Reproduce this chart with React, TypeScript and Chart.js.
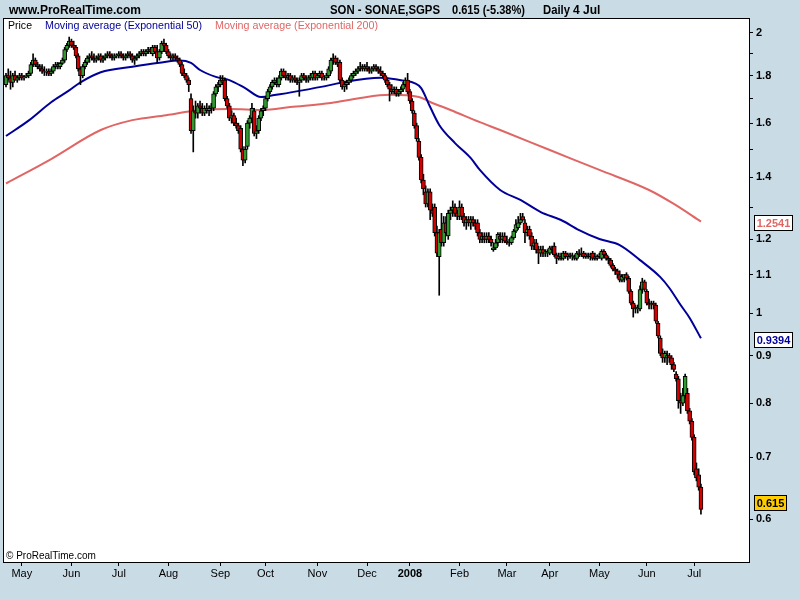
import { useEffect, useRef } from 'react';
import { Chart, registerables } from 'chart.js';

Chart.register(...registerables);

const FONT = 'Arial, "Liberation Sans", Helvetica, sans-serif';

// x axis: trading-day index of first session of each month
const monthTickDays = [7, 29, 50, 72, 95, 115, 138, 160, 179, 201, 222, 241, 263, 284, 305];
const monthTickLabels = ['May', 'Jun', 'Jul', 'Aug', 'Sep', 'Oct', 'Nov', 'Dec', '2008', 'Feb', 'Mar', 'Apr', 'May', 'Jun', 'Jul'];

// y axis (logarithmic)
const yTickValues = [0.6, 0.7, 0.8, 0.9, 1, 1.1, 1.2, 1.3, 1.4, 1.5, 1.6, 1.7, 1.8, 1.9, 2];
const yTickLabels = ['0.6', '0.7', '0.8', '0.9', '1', '1.1', '1.2', '', '1.4', '', '1.6', '', '1.8', '', '2'];

// daily OHLC, one entry per trading day (index 0 = 20 Apr 2007 ... 308 = 4 Jul 2008)
const opens = [
  1.76, 1.80, 1.79, 1.77, 1.80, 1.78, 1.79, 1.80, 1.79, 1.795,
  1.80, 1.81, 1.85, 1.87, 1.85, 1.84, 1.83, 1.82, 1.815, 1.82,
  1.81, 1.82, 1.84, 1.85, 1.84, 1.855, 1.87, 1.92, 1.94, 1.96,
  1.94, 1.93, 1.89, 1.83, 1.80, 1.84, 1.86, 1.88, 1.89, 1.88,
  1.87, 1.88, 1.89, 1.87, 1.88, 1.89, 1.90, 1.89, 1.88, 1.89,
  1.89, 1.90, 1.89, 1.88, 1.89, 1.90, 1.89, 1.87, 1.88, 1.89,
  1.90, 1.91, 1.90, 1.91, 1.92, 1.90, 1.93, 1.91, 1.88, 1.91,
  1.95, 1.94, 1.91, 1.89, 1.88, 1.89, 1.88, 1.87, 1.85, 1.81,
  1.80, 1.78, 1.70, 1.57, 1.65, 1.64, 1.67, 1.66, 1.64, 1.66,
  1.65, 1.66, 1.66, 1.72, 1.75, 1.76, 1.78, 1.78, 1.70, 1.67,
  1.62, 1.63, 1.60, 1.59, 1.58, 1.50, 1.46, 1.51, 1.60, 1.62,
  1.65, 1.56, 1.57, 1.62, 1.65, 1.66, 1.70, 1.73, 1.75, 1.77,
  1.77, 1.76, 1.79, 1.82, 1.80, 1.79, 1.80, 1.78, 1.79, 1.78,
  1.77, 1.78, 1.80, 1.79, 1.78, 1.79, 1.79, 1.81, 1.79, 1.80,
  1.81, 1.79, 1.79, 1.80, 1.82, 1.87, 1.88, 1.86, 1.86, 1.78,
  1.75, 1.76, 1.77, 1.78, 1.80, 1.81, 1.82, 1.83, 1.84, 1.83,
  1.84, 1.83, 1.82, 1.83, 1.84, 1.83, 1.82, 1.81, 1.80, 1.78,
  1.76, 1.74, 1.73, 1.74, 1.72, 1.73, 1.74, 1.76, 1.78, 1.73,
  1.69, 1.64, 1.59, 1.53, 1.47, 1.39, 1.35, 1.31, 1.35, 1.29,
  1.30, 1.22, 1.15, 1.23, 1.19, 1.25, 1.21, 1.28, 1.29, 1.30,
  1.28, 1.27, 1.30, 1.27, 1.25, 1.26, 1.25, 1.26, 1.25, 1.25,
  1.22, 1.20, 1.21, 1.20, 1.21, 1.20, 1.17, 1.175, 1.19, 1.21,
  1.20, 1.21, 1.195, 1.19, 1.19, 1.205, 1.225, 1.235, 1.25, 1.27,
  1.25, 1.22, 1.23, 1.21, 1.18, 1.19, 1.17, 1.16, 1.17, 1.16,
  1.16, 1.16, 1.175, 1.18, 1.155, 1.145, 1.15, 1.145, 1.16, 1.15,
  1.155, 1.15, 1.15, 1.145, 1.16, 1.155, 1.16, 1.15, 1.155, 1.15,
  1.16, 1.15, 1.145, 1.15, 1.145, 1.165, 1.155, 1.145, 1.14, 1.125,
  1.115, 1.11, 1.10, 1.085, 1.09, 1.10, 1.09, 1.055, 1.025, 1.01,
  1.01, 1.01, 1.06, 1.08, 1.055, 1.025, 1.02, 1.025, 1.02, 0.975,
  0.94, 0.905, 0.895, 0.895, 0.90, 0.895, 0.88, 0.86, 0.85, 0.805,
  0.80, 0.815, 0.82, 0.785, 0.765, 0.735, 0.68, 0.67, 0.65,
];
const highs = [
  1.81, 1.83, 1.82, 1.81, 1.82, 1.80, 1.81, 1.81, 1.80, 1.81,
  1.82, 1.86, 1.90, 1.88, 1.86, 1.85, 1.85, 1.84, 1.83, 1.83,
  1.83, 1.85, 1.86, 1.86, 1.86, 1.88, 1.93, 1.95, 1.98, 1.97,
  1.96, 1.94, 1.90, 1.84, 1.85, 1.87, 1.89, 1.90, 1.91, 1.90,
  1.89, 1.90, 1.90, 1.89, 1.90, 1.91, 1.91, 1.90, 1.90, 1.90,
  1.91, 1.91, 1.90, 1.90, 1.91, 1.91, 1.90, 1.89, 1.90, 1.91,
  1.92, 1.92, 1.92, 1.93, 1.93, 1.94, 1.94, 1.94, 1.92, 1.96,
  1.97, 1.95, 1.92, 1.90, 1.90, 1.90, 1.89, 1.88, 1.86, 1.83,
  1.81, 1.79, 1.72, 1.67, 1.69, 1.68, 1.69, 1.68, 1.67, 1.68,
  1.67, 1.68, 1.73, 1.76, 1.77, 1.80, 1.80, 1.79, 1.71, 1.68,
  1.65, 1.64, 1.62, 1.60, 1.59, 1.51, 1.51, 1.61, 1.63, 1.68,
  1.66, 1.59, 1.63, 1.66, 1.67, 1.71, 1.74, 1.76, 1.78, 1.79,
  1.79, 1.80, 1.83, 1.83, 1.82, 1.81, 1.81, 1.80, 1.80, 1.79,
  1.79, 1.81, 1.81, 1.80, 1.80, 1.81, 1.82, 1.82, 1.81, 1.82,
  1.82, 1.80, 1.81, 1.84, 1.88, 1.90, 1.89, 1.88, 1.87, 1.79,
  1.77, 1.78, 1.79, 1.81, 1.82, 1.83, 1.84, 1.86, 1.85, 1.85,
  1.86, 1.84, 1.84, 1.85, 1.85, 1.84, 1.84, 1.82, 1.81, 1.79,
  1.77, 1.76, 1.75, 1.75, 1.74, 1.75, 1.77, 1.79, 1.81, 1.74,
  1.70, 1.65, 1.60, 1.54, 1.48, 1.41, 1.37, 1.36, 1.36, 1.31,
  1.31, 1.24, 1.23, 1.28, 1.27, 1.27, 1.29, 1.30, 1.32, 1.31,
  1.29, 1.32, 1.31, 1.28, 1.27, 1.27, 1.27, 1.27, 1.26, 1.26,
  1.23, 1.22, 1.22, 1.22, 1.22, 1.21, 1.19, 1.20, 1.22, 1.22,
  1.22, 1.22, 1.21, 1.20, 1.21, 1.23, 1.26, 1.27, 1.28, 1.28,
  1.26, 1.24, 1.24, 1.22, 1.20, 1.20, 1.18, 1.18, 1.18, 1.17,
  1.17, 1.18, 1.18, 1.19, 1.16, 1.16, 1.16, 1.165, 1.165, 1.16,
  1.16, 1.16, 1.155, 1.165, 1.17, 1.175, 1.165, 1.16, 1.16, 1.16,
  1.165, 1.16, 1.155, 1.16, 1.17, 1.17, 1.16, 1.15, 1.145, 1.13,
  1.12, 1.115, 1.11, 1.10, 1.10, 1.105, 1.095, 1.06, 1.03, 1.02,
  1.02, 1.07, 1.09, 1.085, 1.06, 1.035, 1.03, 1.03, 1.025, 0.98,
  0.945, 0.915, 0.91, 0.91, 0.905, 0.90, 0.885, 0.865, 0.855, 0.82,
  0.83, 0.86, 0.83, 0.79, 0.77, 0.74, 0.69, 0.68, 0.655,
];
const lows = [
  1.75, 1.78, 1.74, 1.75, 1.78, 1.77, 1.78, 1.78, 1.78, 1.79,
  1.79, 1.80, 1.84, 1.84, 1.83, 1.82, 1.81, 1.80, 1.80, 1.80,
  1.80, 1.81, 1.83, 1.83, 1.83, 1.85, 1.86, 1.91, 1.93, 1.93,
  1.92, 1.88, 1.82, 1.76, 1.79, 1.83, 1.85, 1.86, 1.87, 1.86,
  1.86, 1.87, 1.86, 1.86, 1.87, 1.88, 1.88, 1.87, 1.87, 1.88,
  1.88, 1.88, 1.87, 1.87, 1.88, 1.88, 1.86, 1.85, 1.87, 1.88,
  1.89, 1.89, 1.89, 1.90, 1.90, 1.89, 1.90, 1.86, 1.87, 1.90,
  1.93, 1.90, 1.88, 1.87, 1.87, 1.87, 1.86, 1.84, 1.80, 1.79,
  1.77, 1.73, 1.56, 1.49, 1.62, 1.62, 1.64, 1.63, 1.63, 1.64,
  1.63, 1.64, 1.65, 1.71, 1.73, 1.75, 1.76, 1.69, 1.66, 1.61,
  1.60, 1.59, 1.58, 1.56, 1.49, 1.44, 1.45, 1.50, 1.58, 1.61,
  1.55, 1.54, 1.56, 1.61, 1.63, 1.65, 1.69, 1.72, 1.74, 1.76,
  1.75, 1.75, 1.78, 1.79, 1.78, 1.78, 1.77, 1.77, 1.77, 1.76,
  1.71, 1.77, 1.78, 1.77, 1.77, 1.78, 1.78, 1.78, 1.78, 1.79,
  1.78, 1.78, 1.78, 1.79, 1.81, 1.85, 1.85, 1.84, 1.77, 1.74,
  1.73, 1.74, 1.76, 1.77, 1.79, 1.80, 1.81, 1.82, 1.82, 1.82,
  1.82, 1.81, 1.81, 1.82, 1.82, 1.81, 1.80, 1.79, 1.77, 1.75,
  1.69, 1.72, 1.72, 1.71, 1.71, 1.72, 1.73, 1.75, 1.72, 1.68,
  1.64, 1.58, 1.53, 1.46, 1.38, 1.34, 1.30, 1.30, 1.26, 1.27,
  1.21, 1.15, 1.045, 1.18, 1.18, 1.21, 1.20, 1.26, 1.27, 1.27,
  1.26, 1.26, 1.26, 1.24, 1.23, 1.24, 1.23, 1.24, 1.23, 1.21,
  1.19, 1.19, 1.19, 1.19, 1.19, 1.18, 1.165, 1.17, 1.18, 1.19,
  1.19, 1.19, 1.185, 1.18, 1.185, 1.20, 1.22, 1.23, 1.245, 1.255,
  1.19, 1.21, 1.20, 1.17, 1.17, 1.16, 1.13, 1.15, 1.15, 1.15,
  1.15, 1.155, 1.16, 1.15, 1.13, 1.14, 1.14, 1.14, 1.145, 1.14,
  1.145, 1.14, 1.14, 1.14, 1.15, 1.15, 1.145, 1.145, 1.145, 1.14,
  1.14, 1.14, 1.14, 1.145, 1.14, 1.15, 1.14, 1.13, 1.12, 1.11,
  1.10, 1.09, 1.08, 1.08, 1.08, 1.085, 1.05, 1.02, 0.99, 1.00,
  1.00, 1.005, 1.05, 1.055, 1.02, 1.01, 1.01, 1.01, 0.975, 0.94,
  0.90, 0.885, 0.885, 0.88, 0.885, 0.87, 0.865, 0.845, 0.79, 0.78,
  0.795, 0.81, 0.78, 0.76, 0.73, 0.67, 0.66, 0.645, 0.608,
];
const closes = [
  1.80, 1.79, 1.77, 1.80, 1.78, 1.79, 1.80, 1.79, 1.795, 1.80,
  1.81, 1.85, 1.87, 1.85, 1.84, 1.83, 1.82, 1.815, 1.82, 1.81,
  1.82, 1.84, 1.85, 1.84, 1.855, 1.87, 1.92, 1.94, 1.96, 1.94,
  1.93, 1.89, 1.83, 1.80, 1.84, 1.86, 1.88, 1.89, 1.88, 1.87,
  1.88, 1.89, 1.87, 1.88, 1.89, 1.90, 1.89, 1.88, 1.89, 1.89,
  1.90, 1.89, 1.88, 1.89, 1.90, 1.89, 1.87, 1.88, 1.89, 1.90,
  1.91, 1.90, 1.91, 1.92, 1.91, 1.93, 1.91, 1.88, 1.91, 1.95,
  1.94, 1.91, 1.89, 1.88, 1.89, 1.88, 1.87, 1.85, 1.81, 1.80,
  1.78, 1.76, 1.57, 1.65, 1.64, 1.67, 1.66, 1.64, 1.66, 1.65,
  1.66, 1.67, 1.72, 1.75, 1.76, 1.78, 1.77, 1.70, 1.67, 1.62,
  1.63, 1.60, 1.59, 1.57, 1.50, 1.46, 1.50, 1.60, 1.62, 1.66,
  1.56, 1.57, 1.62, 1.65, 1.66, 1.70, 1.73, 1.75, 1.77, 1.78,
  1.76, 1.79, 1.82, 1.80, 1.79, 1.80, 1.78, 1.79, 1.78, 1.77,
  1.78, 1.80, 1.79, 1.78, 1.79, 1.80, 1.81, 1.79, 1.80, 1.81,
  1.79, 1.79, 1.80, 1.83, 1.87, 1.88, 1.86, 1.85, 1.78, 1.75,
  1.76, 1.77, 1.78, 1.80, 1.81, 1.82, 1.83, 1.84, 1.83, 1.84,
  1.83, 1.82, 1.83, 1.84, 1.83, 1.82, 1.81, 1.80, 1.78, 1.76,
  1.74, 1.73, 1.74, 1.72, 1.73, 1.74, 1.76, 1.78, 1.73, 1.69,
  1.65, 1.59, 1.54, 1.47, 1.39, 1.36, 1.31, 1.35, 1.29, 1.28,
  1.22, 1.16, 1.22, 1.19, 1.25, 1.22, 1.28, 1.29, 1.30, 1.28,
  1.27, 1.30, 1.27, 1.25, 1.26, 1.25, 1.26, 1.25, 1.24, 1.22,
  1.20, 1.21, 1.20, 1.21, 1.20, 1.19, 1.175, 1.19, 1.215, 1.20,
  1.21, 1.195, 1.19, 1.195, 1.205, 1.225, 1.245, 1.25, 1.26, 1.26,
  1.22, 1.23, 1.21, 1.18, 1.19, 1.17, 1.16, 1.17, 1.16, 1.16,
  1.165, 1.175, 1.17, 1.155, 1.145, 1.15, 1.145, 1.16, 1.15, 1.155,
  1.15, 1.15, 1.145, 1.16, 1.155, 1.16, 1.15, 1.155, 1.15, 1.155,
  1.145, 1.145, 1.15, 1.155, 1.165, 1.155, 1.145, 1.14, 1.125, 1.115,
  1.11, 1.10, 1.085, 1.095, 1.10, 1.09, 1.055, 1.025, 1.01, 1.015,
  1.01, 1.06, 1.08, 1.06, 1.025, 1.02, 1.025, 1.02, 0.98, 0.945,
  0.905, 0.895, 0.905, 0.90, 0.895, 0.88, 0.87, 0.85, 0.805, 0.80,
  0.815, 0.855, 0.785, 0.765, 0.735, 0.675, 0.665, 0.65, 0.615,
];

const ema50Days = [0, 10, 20, 28, 33, 42, 56, 68, 77, 82, 86, 93, 99, 106, 113, 119, 130, 144, 150, 166, 177, 181, 184, 188, 192, 199, 206, 210, 219, 228, 237, 246, 254, 263, 272, 281, 290, 294, 299, 303, 308];
const ema50Values = [1.55, 1.61, 1.685, 1.735, 1.77, 1.815, 1.84, 1.858, 1.868, 1.857, 1.825, 1.794, 1.78, 1.745, 1.707, 1.715, 1.733, 1.759, 1.772, 1.79, 1.776, 1.767, 1.745, 1.665, 1.593, 1.523, 1.467, 1.425, 1.356, 1.323, 1.284, 1.259, 1.228, 1.201, 1.183, 1.14, 1.093, 1.064, 1.02, 0.988, 0.9394];
const ema200Days = [0, 20, 42, 56, 71, 86, 99, 114, 126, 144, 157, 170, 183, 188, 197, 210, 219, 241, 263, 285, 296, 308];
const ema200Values = [1.378, 1.464, 1.573, 1.612, 1.632, 1.653, 1.657, 1.653, 1.665, 1.682, 1.703, 1.716, 1.707, 1.686, 1.653, 1.604, 1.573, 1.497, 1.425, 1.356, 1.31, 1.2541];

const lastPrice = 0.615;
const lastEma50 = 0.9394;
const lastEma200 = 1.2541;

const BG = '#c9dbe5';
const UP = '#2f9a2f';
const DOWN = '#d40000';
const BLUE = '#000099';
const RED = '#e06666';

export default function App() {
  const ref = useRef<HTMLCanvasElement | null>(null);

  useEffect(() => {
    document.body.style.margin = '0';
    const canvas = ref.current;
    if (!canvas) return;

    const days = closes.map((_, i) => i);
    const wickData = days.map((i) => ({ x: i, y: [lows[i], highs[i]] }));
    const bodyData = days.map((i) => ({ x: i, y: [opens[i], closes[i]] }));
    const bodyColors = days.map((i) => (closes[i] >= opens[i] ? UP : DOWN));
    const ema50Data = ema50Days.map((d, k) => ({ x: d, y: ema50Values[k] }));
    const ema200Data = ema200Days.map((d, k) => ({ x: d, y: ema200Values[k] }));

    const framePlugin = {
      id: 'frame',
      beforeDraw(chart: any) {
        const { ctx, chartArea } = chart;
        ctx.save();
        ctx.fillStyle = BG;
        ctx.fillRect(0, 0, chart.width, chart.height);
        ctx.fillStyle = '#ffffff';
        ctx.fillRect(chartArea.left, chartArea.top, chartArea.right - chartArea.left, chartArea.bottom - chartArea.top);
        ctx.restore();
      },
      afterDraw(chart: any) {
        const { ctx, chartArea } = chart;
        const yScale = chart.scales.y;
        ctx.save();
        ctx.strokeStyle = '#000';
        ctx.lineWidth = 1;
        ctx.strokeRect(chartArea.left + 0.5, chartArea.top + 0.5, chartArea.right - chartArea.left, chartArea.bottom - chartArea.top);

        ctx.textAlign = 'left';
        ctx.textBaseline = 'alphabetic';
        ctx.fillStyle = '#000';
        ctx.font = `bold 12px ${FONT}`;
        ctx.fillText('www.ProRealTime.com', 9, 14, 134);
        ctx.fillText('SON - SONAE,SGPS', 330, 14, 110);
        ctx.fillText('0.615 (-5.38%)', 452, 14, 73);
        ctx.fillText('Daily', 543, 14, 27);
        ctx.fillText('4 Jul', 573, 14, 29);

        ctx.font = `11px ${FONT}`;
        ctx.fillStyle = '#000';
        ctx.fillText('Price', 8, 29, 24);
        ctx.fillStyle = BLUE;
        ctx.fillText('Moving average (Exponential 50)', 45, 29, 157);
        ctx.fillStyle = RED;
        ctx.fillText('Moving average (Exponential 200)', 215, 29, 163);

        ctx.fillStyle = '#000';
        ctx.font = `10px ${FONT}`;
        ctx.fillText('\u00a9 ProRealTime.com', 6, 559, 92);

        const box = (value: number, text: string, color: string, fill: string, dy: number) => {
          const y = Math.round(yScale.getPixelForValue(value) + dy);
          ctx.font = `bold 11px ${FONT}`;
          const w = Math.ceil(ctx.measureText(text).width) + 4;
          const x = 754;
          ctx.fillStyle = fill;
          ctx.fillRect(x, y - 8, w, 15);
          ctx.strokeStyle = '#000';
          ctx.strokeRect(x + 0.5, y - 7.5, w, 15);
          ctx.fillStyle = color;
          ctx.textAlign = 'center';
          ctx.textBaseline = 'middle';
          ctx.fillText(text, x + w / 2 + 0.5, y + 0.5);
          ctx.textAlign = 'left';
          ctx.textBaseline = 'alphabetic';
        };
        box(lastEma200, lastEma200.toFixed(4), RED, '#ffffff', 1.5);
        box(lastEma50, lastEma50.toFixed(4), BLUE, '#ffffff', 1.5);
        box(lastPrice, lastPrice.toFixed(3), '#000', '#ffcc00', -6.5);
        ctx.restore();
      },
    };

    const chart = new Chart(canvas, {
      type: 'bar',
      data: {
        datasets: [
          {
            type: 'line',
            label: 'EMA 200',
            data: ema200Data as any,
            borderColor: RED,
            borderWidth: 2,
            pointRadius: 0,
            cubicInterpolationMode: 'monotone',
            order: 3,
          } as any,
          {
            type: 'line',
            label: 'EMA 50',
            data: ema50Data as any,
            borderColor: BLUE,
            borderWidth: 2,
            pointRadius: 0,
            cubicInterpolationMode: 'monotone',
            order: 2,
          } as any,
          {
            type: 'bar',
            label: 'wick',
            data: wickData as any,
            backgroundColor: '#000',
            borderWidth: 0,
            barThickness: 1,
            stack: 'candle',
            order: 1,
          } as any,
          {
            type: 'bar',
            label: 'Price',
            data: bodyData as any,
            backgroundColor: bodyColors,
            borderColor: '#000',
            borderWidth: 1,
            borderSkipped: false,
            barThickness: 4,
            minBarLength: 1,
            stack: 'candle',
            order: 0,
          } as any,
        ],
      },
      options: {
        responsive: false,
        animation: false,
        events: [],
        layout: { autoPadding: false, padding: { left: 3, top: 18, right: 0, bottom: 0 } },
        plugins: { legend: { display: false }, tooltip: { enabled: false } },
        scales: {
          x: {
            type: 'linear',
            min: -1.33,
            max: 329.3,
            offset: false,
            bounds: 'data',
            grid: { display: true, drawOnChartArea: false, drawTicks: true, tickLength: 4, color: '#000', tickColor: '#000', offset: false },
            border: { display: true, color: '#000', width: 1 },
            afterBuildTicks: (axis: any) => {
              axis.ticks = monthTickDays.map((d) => ({ value: d }));
            },
            afterFit: (axis: any) => {
              axis.height = 38;
            },
            ticks: {
              autoSkip: false,
              maxRotation: 0,
              minRotation: 0,
              padding: 1,
              color: '#000',
              font: (c: any) => ({ family: FONT, size: 11, weight: monthTickLabels[c.index] === '2008' ? 'bold' : 'normal' }),
              callback: (_v: any, i: number) => monthTickLabels[i],
            },
          },
          y: {
            type: 'logarithmic',
            position: 'right',
            min: 0.54,
            max: 2.0756,
            stacked: false,
            bounds: 'data',
            grid: { display: true, drawOnChartArea: false, drawTicks: true, tickLength: 4, color: '#000', tickColor: '#000' },
            border: { display: true, color: '#000', width: 1 },
            afterBuildTicks: (axis: any) => {
              axis.ticks = yTickValues.map((v) => ({ value: v }));
            },
            afterFit: (axis: any) => {
              axis.width = 51;
            },
            ticks: {
              autoSkip: false,
              padding: 3,
              color: '#000',
              font: { family: FONT, size: 11, weight: 'bold' },
              callback: (_v: any, i: number) => yTickLabels[i],
            },
          },
        },
      } as any,
      plugins: [framePlugin],
    });

    return () => chart.destroy();
  }, []);

  return (
    <div style={{ width: 800, height: 600 }}>
      <canvas ref={ref} width={800} height={600} style={{ display: 'block', width: 800, height: 600 }} />
    </div>
  );
}
